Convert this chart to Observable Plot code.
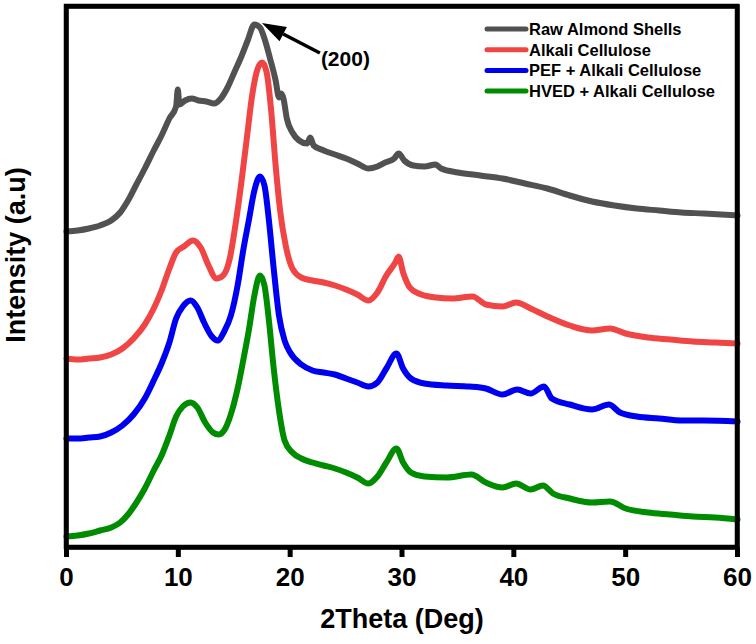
<!DOCTYPE html>
<html>
<head>
<meta charset="utf-8">
<script src="https://cdn.jsdelivr.net/npm/d3@7"></script>
<script src="https://cdn.jsdelivr.net/npm/@observablehq/plot@0.6"></script>
<style>
  body { margin: 0; background: #fff; }
  #chart { width: 756px; height: 644px; }
</style>
</head>
<body>
<div id="chart"></div>
<script>
// 2Theta (deg), intensity (a.u., offset traces)
const rawAlmondShells = [
  [0,316],[1,317],[2,319],[3,322],[4,327],[4.8,335],[5.5,347],[6.2,362],[7,379],[7.8,397],
  [8.5,412],[9.2,429],[9.8,441],[9.95,458],[10.1,443],[10.6,447],[11.2,449],[11.8,447],[12.5,446],
  [13.2,444],[13.8,449],[14.4,460],[15,475],[15.6,490],[16.2,507],[16.8,523],[17.3,520],[17.7,509],
  [18.2,489],[18.7,467],[19.0,450],[19.2,454],[19.4,449],[19.7,429],[20.2,415],[20.8,407],[21.5,404],
  [21.8,410],[22.1,402],[23,397],[24,393],[25,389],[26,384],[27,379],[27.8,381],[28.5,385],[29.3,389],
  [29.7,394],[30.2,387],[31,382],[32,381],[33,383],[33.5,379],[35,375],[37,372],[39,369],[41,364],
  [43,359],[45,352],[47,346],[49,342],[51,339],[53,337],[55,335],[57,334],[60,332]
];
const alkaliCellulose = [
  [0,189],[1,188],[2,189],[3,190],[4,193],[5,199],[6,209],[7,223],[7.8,239],[8.5,257],[9.2,279],
  [9.8,295],[10.5,301],[11.3,307],[12,300],[12.7,282],[13.4,269],[14,272],[14.6,289],[15.1,322],
  [15.6,362],[16.1,407],[16.6,452],[17.1,479],[17.5,485],[17.9,475],[18.3,437],[18.7,382],[19.1,337],
  [19.6,302],[20.2,279],[21,270],[22,267],[23,265],[24,262],[25,258],[26,253],[27,247],[27.8,255],
  [28.6,272],[29.4,285],[29.7,291],[30.1,275],[30.7,260],[31.5,254],[33,250],[34.5,249],[36.3,251],
  [37.5,243],[39,241],[40.2,245],[41.5,239],[43,231],[45,222],[47,217],[48.6,219],[50,214],[52,210],
  [54,208],[56,206],[58,205],[60,204]
];
const pefAlkaliCellulose = [
  [0,109],[1,109],[2,110],[3,111],[4,115],[5,122],[6,133],[7,149],[7.8,167],[8.5,184],[9.2,205],
  [9.8,229],[10.4,241],[11.1,247],[11.7,240],[12.3,225],[13,211],[13.5,207],[14.1,216],[14.7,232],
  [15.3,262],[15.8,297],[16.3,327],[16.8,357],[17.3,371],[17.7,362],[18.1,327],[18.5,282],[19,232],
  [19.5,207],[20,195],[21,183],[22,177],[23,175],[24,173],[25,169],[26,165],[27,161],[27.8,165],
  [28.6,179],[29.5,194],[30.1,179],[30.8,169],[32,164],[34,162],[36,161],[37.5,159],[39,153],
  [40.3,158],[41.5,154],[42.7,161],[43.4,149],[45,143],[47,138],[48.5,143],[49.5,135],[51,131],
  [53,129],[55,127],[57,127],[60,126]
];
const hvedAlkaliCellulose = [
  [0,11],[1,12],[2,14],[3,17],[4,20],[4.8,25],[5.5,33],[6.2,44],[7,59],[7.8,77],[8.5,92],[9.2,112],
  [9.8,131],[10.4,141],[11.1,145],[11.7,140],[12.4,125],[13.1,115],[13.6,113],[14.2,119],[14.8,137],
  [15.3,159],[15.8,187],[16.3,217],[16.8,252],[17.3,272],[17.7,262],[18.1,227],[18.5,182],[19,137],
  [19.5,107],[20.2,95],[21,89],[22,85],[23,82],[24,79],[25,75],[26,70],[27,64],[27.8,71],[28.6,85],
  [29.5,99],[30.1,85],[30.8,75],[32,71],[34,70],[36.2,73],[37.5,65],[39,60],[40.2,64],[41.5,58],
  [42.6,62],[43.5,54],[45,49],[47,45],[48.6,46],[50,39],[52,35],[54,33],[56,31],[58,30],[60,28]
];
const seriesNames = ["Raw Almond Shells", "Alkali Cellulose", "PEF + Alkali Cellulose", "HVED + Alkali Cellulose"];
const seriesColors = ["#515151", "#f04545", "#0000f0", "#008c00"];
const xTicks = [0, 10, 20, 30, 40, 50, 60];
const peakLabel = "(200)";

const allSeries = [rawAlmondShells, alkaliCellulose, pefAlkaliCellulose, hvedAlkaliCellulose];
const rows = allSeries.flatMap((s, i) => s.map(([x, y]) => ({x, y, series: seriesNames[i]})));

const font = "'Liberation Sans', Arial, sans-serif";

const chart = Plot.plot({
  width: 756,
  height: 644,
  marginLeft: 66,
  marginRight: 19,
  marginTop: 6,
  marginBottom: 97,
  style: {fontFamily: font, fontWeight: "bold", background: "#fff", color: "#000"},
  x: {domain: [0, 60], ticks: xTicks},
  y: {domain: [0, 541], axis: null},
  color: {domain: seriesNames, range: seriesColors},
  marks: [
    Plot.line(rows, {x: "x", y: "y", z: "series", stroke: "series", strokeWidth: 6,
      curve: "monotone-x", strokeLinejoin: "round", strokeLinecap: "round"}),
    Plot.frame({stroke: "#000", strokeWidth: 4.5}),
    Plot.axisX({ticks: xTicks, tickSize: 10, tickPadding: 10, fontSize: 26, strokeWidth: 5, label: null, tickFormat: d => String(d)}),
    Plot.text(["2Theta (Deg)"], {frameAnchor: "bottom", dy: 80, fontSize: 27, fontWeight: "bold", fill: "#000", textAnchor: "middle"}),
    Plot.text(["Intensity (a.u)"], {frameAnchor: "left", rotate: -90, dx: -50, dy: -22, fontSize: 27, fontWeight: "bold", fill: "#000", textAnchor: "middle"})
  ]
});
document.getElementById("chart").appendChild(chart);

const svg = d3.select(chart);
const sx = chart.scale("x"), sy = chart.scale("y");
// reinforce the heavy plot frame on top, aligned to the scale ranges
const [rx0, rx1] = sx.range, [ry0, ry1] = sy.range;
svg.append("rect").attr("x", Math.min(rx0, rx1)).attr("y", Math.min(ry0, ry1))
  .attr("width", Math.abs(rx1 - rx0)).attr("height", Math.abs(ry1 - ry0))
  .attr("fill", "none").attr("stroke", "#000").attr("stroke-width", 4.5);

// legend
const lg = svg.append("g").attr("text-anchor", "start");
seriesNames.forEach((name, i) => {
  const yy = 29 + i * 20.7;
  lg.append("line").attr("x1", 487).attr("x2", 526).attr("y1", yy).attr("y2", yy)
    .attr("stroke", seriesColors[i]).attr("stroke-width", 5).attr("stroke-linecap", "round");
  lg.append("text").attr("x", 529).attr("y", yy).attr("dy", "0.36em").attr("text-anchor", "start")
    .attr("font-size", 16.5).attr("font-weight", "bold").attr("font-family", font).attr("fill", "#000").text(name);
});

// arrow to the (200) peak of the raw almond shell trace
const peak = rawAlmondShells.reduce((a, b) => (b[1] > a[1] ? b : a));
const tipX = sx.apply(peak[0]) + 8, tipY = sy.apply(peak[1]) - 1;
const tailX = tipX + 58, tailY = tipY + 30;
const ang = Math.atan2(tipY - tailY, tipX - tailX);
const hl = 24, hw = 8;
const bx = tipX - hl * Math.cos(ang), by = tipY - hl * Math.sin(ang);
svg.append("line").attr("x1", tailX).attr("y1", tailY).attr("x2", bx).attr("y2", by)
  .attr("stroke", "#000").attr("stroke-width", 3.5);
svg.append("polygon").attr("fill", "#000").attr("points", [
  [tipX, tipY],
  [bx + hw * Math.sin(ang), by - hw * Math.cos(ang)],
  [bx - hw * Math.sin(ang), by + hw * Math.cos(ang)]
].map(p => p.join(",")).join(" "));
svg.append("text").attr("x", tailX + 1).attr("y", tailY + 5).attr("dy", "0.36em").attr("text-anchor", "start")
  .attr("font-size", 21).attr("font-weight", "bold").attr("font-family", font).attr("fill", "#000").text(peakLabel);
</script>
</body>
</html>
